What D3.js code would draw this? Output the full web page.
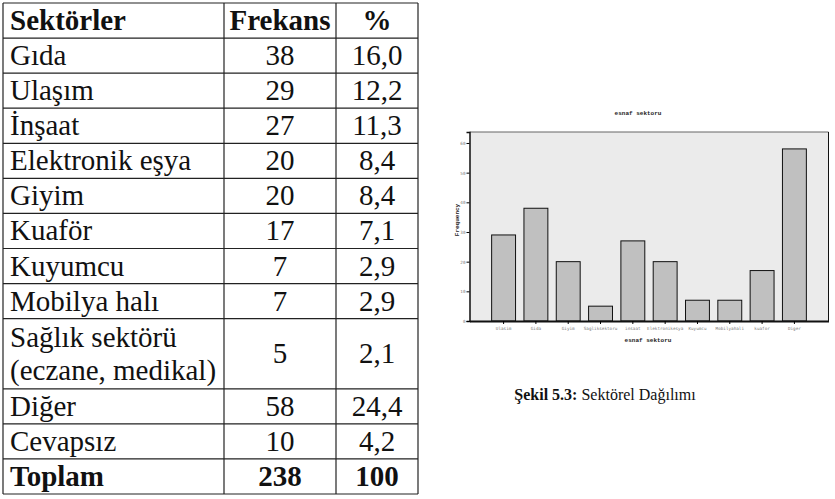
<!DOCTYPE html>
<html>
<head>
<meta charset="utf-8">
<script src="https://d3js.org/d3.v7.min.js"></script>
<style>
  body { margin:0; background:#fff; }
  .tiny { font-family:"DejaVu Sans Mono", monospace; font-size:4.3px; fill:#7a7a7a; }
  .ttl { font-family:"Liberation Mono", "DejaVu Sans Mono", monospace; font-size:6px; font-weight:bold; fill:#222; }
</style>
</head>
<body>
<svg id="page" width="835" height="499"></svg>
<script>
// table data
var sectors = ["Gıda","Ulaşım","İnşaat","Elektronik eşya","Giyim","Kuaför","Kuyumcu","Mobilya halı","Sağlık sektörü|(eczane, medikal)","Diğer","Cevapsız"];
var freqs = [38,29,27,20,20,17,7,7,5,58,10];
var pcts = ["16,0","12,2","11,3","8,4","8,4","7,1","2,9","2,9","2,1","24,4","4,2"];
var headers = ["Sektörler","Frekans","%"];
var totals = ["Toplam","238","100"];

// chart data
var categories = ["Ulasim","Gida","Giyim","Sagliksektoru","insaat","Elektronikesya","Kuyumcu","Mobilyahali","kuafor","Diger"];
var counts = [29,38,20,5,27,20,7,7,17,58];
var yTicks = [0,10,20,30,40,50,60];

var serif = "'Liberation Serif', 'DejaVu Serif', serif";
var svg = d3.select("#page");

// ---------- table ----------
var colX = [3, 224, 336, 418];
var rows = [{cells: headers, units: 1, bold: true}];
sectors.forEach(function(s, i) {
  rows.push({cells: [s, String(freqs[i]), pcts[i]], units: s.indexOf("|") >= 0 ? 2 : 1});
});
rows.push({cells: totals, units: 1, bold: true});

var totalUnits = d3.sum(rows, function(r) { return r.units; });
var ry = d3.scaleLinear().domain([0, totalUnits]).range([3, 494]);
var acc = 0;
rows.forEach(function(r) { r.u0 = acc; acc += r.units; r.u1 = acc; });

var tg = svg.append("g");
tg.selectAll("line.h").data(d3.range(rows.length + 1)).enter().append("line")
  .attr("x1", colX[0]).attr("x2", colX[3])
  .attr("y1", function(i) { return i == 0 ? ry(0) : ry(rows[i-1].u1); })
  .attr("y2", function(i) { return i == 0 ? ry(0) : ry(rows[i-1].u1); })
  .attr("stroke", "#222").attr("stroke-width", 1.2);
tg.selectAll("line.v").data(colX).enter().append("line")
  .attr("x1", function(d) { return d; }).attr("x2", function(d) { return d; })
  .attr("y1", ry(0)).attr("y2", ry(totalUnits))
  .attr("stroke", "#222").attr("stroke-width", 1.2);

rows.forEach(function(r) {
  var cy = (ry(r.u0) + ry(r.u1)) / 2;
  r.cells.forEach(function(c, j) {
    var tx = j == 0 ? colX[0] + 7 : (colX[j] + colX[j+1]) / 2;
    var t = tg.append("text")
      .style("font-family", serif).style("font-size", "29px")
      .style("font-weight", r.bold ? "bold" : "normal").style("fill", "#111")
      .attr("text-anchor", j == 0 ? "start" : "middle");
    var lines = c.split("|");
    lines.forEach(function(l, k) {
      t.append("tspan").attr("x", tx)
        .attr("y", cy + 9.5 + (k - (lines.length - 1) / 2) * 33).text(l);
    });
  });
});

// ---------- chart ----------
var x = d3.scaleBand().domain(categories).range([469.5, 828.5]).paddingInner(0.26).paddingOuter(0.685);
var y = d3.scaleLinear().domain([0, 63.7]).range([321, 132]);

var cg = svg.append("g");
cg.append("rect").attr("x", 469.5).attr("y", 132).attr("width", 359).attr("height", 189).attr("fill", "#ebebeb");
cg.append("line").attr("x1", 469.5).attr("x2", 828.5).attr("y1", 132).attr("y2", 132).attr("stroke", "#666").attr("stroke-width", 1.2);
cg.append("line").attr("x1", 828.5).attr("x2", 828.5).attr("y1", 132).attr("y2", 321).attr("stroke", "#111").attr("stroke-width", 1);

cg.selectAll(".bar").data(categories).enter().append("rect")
  .attr("class", "bar")
  .attr("x", function(d) { return x(d); })
  .attr("y", function(d, i) { return y(counts[i]); })
  .attr("width", x.bandwidth())
  .attr("height", function(d, i) { return y(0) - y(counts[i]); })
  .attr("fill", "#c0c0c0").attr("stroke", "#111").attr("stroke-width", 1);

var yAxis = cg.append("g").attr("transform", "translate(469.5,0)")
  .call(d3.axisLeft(y).tickValues(yTicks).tickSize(3).tickPadding(1));
yAxis.select(".domain").attr("stroke", "#111").attr("stroke-width", 1.5);
yAxis.selectAll("text").attr("class", "tiny").attr("font-size", null).attr("font-family", null).attr("fill", null);

var xAxis = cg.append("g").attr("transform", "translate(0,321)")
  .call(d3.axisBottom(x).tickSize(3).tickSizeOuter(0).tickPadding(3));
xAxis.select(".domain").attr("stroke", "#111").attr("stroke-width", 1.8);
xAxis.selectAll("text").attr("class", "tiny").attr("font-size", null).attr("font-family", null).attr("fill", null);

cg.append("text").attr("class", "ttl").attr("x", 638).attr("y", 115).attr("text-anchor", "middle").text("esnaf sektoru");
cg.append("text").attr("class", "ttl").attr("x", 648).attr("y", 342).attr("text-anchor", "middle").text("esnaf sektoru");
cg.append("text").attr("class", "ttl").attr("transform", "translate(459,220) rotate(-90)").attr("text-anchor", "middle").text("Frequency");

// caption
var cap = svg.append("text").attr("x", 605).attr("y", 400).attr("text-anchor", "middle")
  .style("font-family", serif).style("font-size", "16px").style("fill", "#111");
cap.append("tspan").style("font-weight", "bold").text("Şekil 5.3:");
cap.append("tspan").text(" Sektörel Dağılımı");
</script>
</body>
</html>
